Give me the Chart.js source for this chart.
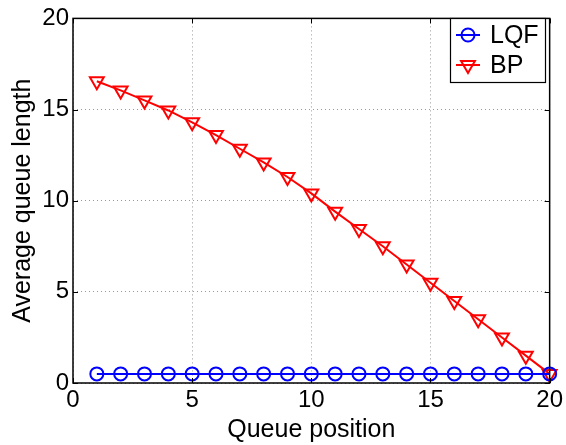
<!DOCTYPE html>
<html>
<head>
<meta charset="utf-8">
<script src="https://cdn.jsdelivr.net/npm/chart.js@4/dist/chart.umd.min.js"></script>
<style>
  html, body { margin: 0; padding: 0; background: #fff; }
  #wrap { width: 566px; height: 445px; }
</style>
</head>
<body>
<div id="wrap"><canvas id="queue-chart"></canvas></div>
<script>
// queue positions 1..20
var positions = [1, 2, 3, 4, 5, 6, 7, 8, 9, 10, 11, 12, 13, 14, 15, 16, 17, 18, 19, 20];
var lqf = [0.5, 0.5, 0.5, 0.5, 0.5, 0.5, 0.5, 0.5, 0.5, 0.5, 0.5, 0.5, 0.5, 0.5, 0.5, 0.5, 0.5, 0.5, 0.5, 0.5];
var bp = [16.55, 16.05, 15.5, 14.95, 14.3, 13.6, 12.85, 12.1, 11.3, 10.4, 9.4, 8.45, 7.5, 6.5, 5.5, 4.5, 3.5, 2.5, 1.5, 0.5];
var xTicks = [0, 5, 10, 15, 20];
var yTicks = [0, 5, 10, 15, 20];

var FONT = "'Liberation Sans', Arial, Helvetica, sans-serif";

function toPoints(ys) {
    return positions.map(function(x, i) { return { x: x, y: ys[i] }; });
}

// box around the plot, inward ticks and a matlab style legend inside the plot
var framePlugin = {
    id: 'frame',
    afterDraw: function(chart) {
        var ctx = chart.ctx;
        var a = chart.chartArea;
        var xs = chart.scales.x, ys = chart.scales.y;
        ctx.save();
        ctx.strokeStyle = '#000';
        ctx.lineWidth = 1;
        ctx.beginPath();
        xTicks.forEach(function(v) {
            var px = Math.round(xs.getPixelForValue(v)) + 0.5;
            ctx.moveTo(px, a.bottom); ctx.lineTo(px, a.bottom - 5);
            ctx.moveTo(px, a.top); ctx.lineTo(px, a.top + 5);
        });
        yTicks.forEach(function(v) {
            var py = Math.round(ys.getPixelForValue(v)) + 0.5;
            ctx.moveTo(a.left, py); ctx.lineTo(a.left + 5, py);
            ctx.moveTo(a.right, py); ctx.lineTo(a.right - 5, py);
        });
        ctx.stroke();
        ctx.lineWidth = 1.5;
        ctx.strokeRect(a.left, a.top, a.right - a.left, a.bottom - a.top);

        // legend
        var bx = 450, by = 18, bw = 95, bh = 64;
        ctx.fillStyle = '#fff';
        ctx.fillRect(bx, by, bw, bh);
        ctx.lineWidth = 1.2;
        ctx.strokeRect(bx + 0.5, by + 0.5, bw, bh);
        chart.data.datasets.forEach(function(ds, i) {
            var cy = by + 17 + i * 30;
            ctx.strokeStyle = ds.borderColor;
            ctx.lineWidth = 2;
            ctx.beginPath();
            ctx.moveTo(bx + 6, cy); ctx.lineTo(bx + 30, cy);
            ctx.stroke();
            ctx.fillStyle = 'rgba(0,0,0,0)';
            Chart.helpers.drawPoint(ctx, {
                pointStyle: ds.pointStyle,
                radius: ds.pointRadius,
                rotation: ds.pointRotation || 0,
                borderWidth: 2
            }, bx + 18, cy);
            ctx.fillStyle = '#000';
            ctx.font = '25px ' + FONT;
            ctx.textBaseline = 'middle';
            ctx.fillText(ds.label, bx + 40, cy + 1);
        });
        ctx.restore();
    }
};

new Chart(document.getElementById('queue-chart'), {
    type: 'line',
    data: {
        datasets: [
            {
                label: 'LQF',
                data: toPoints(lqf),
                borderColor: '#0000ff',
                backgroundColor: 'rgba(0,0,0,0)',
                borderWidth: 2,
                pointStyle: 'circle',
                pointRadius: 6.5,
                pointBorderWidth: 2,
                pointBackgroundColor: 'rgba(0,0,0,0)',
                clip: false
            },
            {
                label: 'BP',
                data: toPoints(bp),
                borderColor: '#ff0000',
                backgroundColor: 'rgba(0,0,0,0)',
                borderWidth: 2,
                pointStyle: 'triangle',
                pointRotation: 180,
                pointRadius: 8,
                pointBorderWidth: 2,
                pointBackgroundColor: 'rgba(0,0,0,0)',
                clip: false
            }
        ]
    },
    options: {
        responsive: true,
        maintainAspectRatio: false,
        animation: false,
        layout: { padding: { top: 13, right: 13, left: 0, bottom: 0 } },
        plugins: {
            legend: { display: false },
            tooltip: { enabled: false }
        },
        scales: {
            x: {
                type: 'linear',
                min: 0,
                max: 20,
                afterFit: function(s) { s.height = 62; },
                afterBuildTicks: function(s) { s.ticks = xTicks.map(function(v) { return { value: v }; }); },
                ticks: { color: '#000', padding: 3, font: { family: FONT, size: 24 } },
                grid: { color: '#999', drawTicks: false },
                border: { display: false, dash: [1, 3] },
                title: {
                    display: true,
                    text: 'Queue position',
                    color: '#000',
                    font: { family: FONT, size: 25 },
                    padding: { top: 0, bottom: 0 }
                }
            },
            y: {
                type: 'linear',
                min: 0,
                max: 20,
                afterFit: function(s) { s.width = 73; },
                afterBuildTicks: function(s) { s.ticks = yTicks.map(function(v) { return { value: v }; }); },
                ticks: { color: '#000', padding: 4, font: { family: FONT, size: 24 } },
                grid: { color: '#999', drawTicks: false },
                border: { display: false, dash: [1, 3] },
                title: {
                    display: true,
                    text: 'Average queue length',
                    color: '#000',
                    font: { family: FONT, size: 25 },
                    padding: { top: 8, bottom: 0 }
                }
            }
        }
    },
    plugins: [framePlugin]
});
</script>
</body>
</html>
